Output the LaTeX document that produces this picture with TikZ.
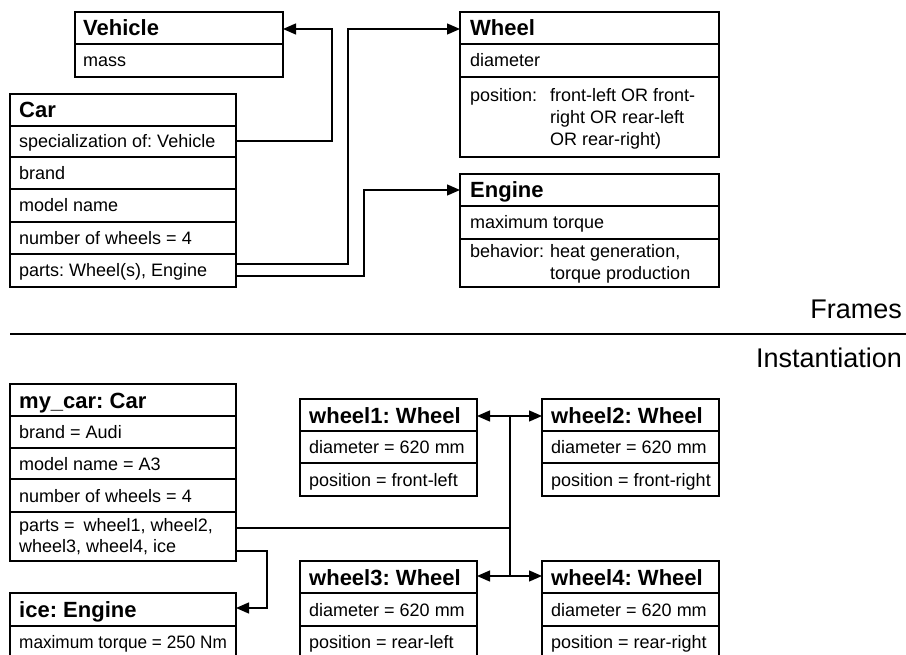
\documentclass[tikz,border=0pt]{standalone}
\usepackage{fontspec}
\setmainfont{Liberation Sans}
\usetikzlibrary{arrows.meta}
\frenchspacing

\tikzset{
  boxframe/.style={draw, line width=2.4pt, outer sep=0pt, inner sep=0pt},
  rowline/.style={line width=1.3pt},
  link/.style={line width=1.3pt},
  linkarrow/.style={link, -{Triangle[length=13pt,width=11pt]}},
  hdr/.style={anchor=base west, inner sep=0pt, font=\bfseries\fontsize{22}{26}\selectfont},
  txt/.style={anchor=base west, inner sep=0pt, font=\fontsize{18}{22}\selectfont},
  sect/.style={anchor=base east, inner sep=0pt, font=\fontsize{27}{32}\selectfont},
}

% class box: name, left, top, right, bottom (y grows downwards)
\newcommand\classbox[5]{%
  \node[boxframe, anchor=north west, minimum width=#4pt-#2pt,
        minimum height=#5pt-#3pt] (#1) at (#2,#3) {};}
% row divider: left, right, y
\newcommand\rowdiv[3]{\draw[rowline] (#1,#3) -- (#2,#3);}
\newcommand\lbl[1]{\makebox[80pt][l]{#1}}

\begin{document}
\begin{tikzpicture}[x=1pt, y=-1pt]
\clip (0,0) rectangle (906,655);

% ---------------- frames ----------------
\rowdiv{75}{283}{44}
\classbox{vehicle}{75}{12}{283}{77}
\node[hdr] (vehicleT) at (83,36) {Vehicle};
\node[txt] (vehicleA) at (83,67) {mass};

\rowdiv{10}{236}{126}\rowdiv{10}{236}{157}\rowdiv{10}{236}{189}
\rowdiv{10}{236}{222}\rowdiv{10}{236}{254}
\classbox{car}{10}{94}{236}{287}
\node[hdr] (carT) at (19,118) {Car};
\node[txt] (carA) at (19,148) {specialization of: Vehicle};
\node[txt] (carB) at (19,179.5) {brand};
\node[txt] (carC) at (19,212) {model name};
\node[txt] (carD) at (19,244.5) {number of wheels = 4};
\node[txt] (carE) at (19,277) {parts: Wheel(s), Engine};

\rowdiv{460}{719}{44}\rowdiv{460}{719}{77}
\classbox{wheel}{460}{12}{719}{157}
\node[hdr] (wheelT) at (470,36) {Wheel};
\node[txt] (wheelA) at (470,67) {diameter};
\node[txt] (wheelB1) at (470,101.5) {\lbl{position:}front-left OR front-};
\node[txt] (wheelB2) at (550,123.5) {right OR rear-left};
\node[txt] (wheelB3) at (550,145.5) {OR rear-right)};

\rowdiv{460}{719}{206}\rowdiv{460}{719}{239}
\classbox{engine}{460}{174}{719}{287}
\node[hdr] (engineT) at (470,198) {Engine};
\node[txt] (engineA) at (470,229) {maximum torque};
\node[txt] (engineB1) at (470,258) {\lbl{behavior:}heat generation,};
\node[txt] (engineB2) at (550,280) {torque production};

% frame links
\coordinate (specOut) at (236,141);
\coordinate (vehIn) at (283,29);
\draw[linkarrow] (specOut) -- (332,141) |- (vehIn);
\coordinate (partsOutA) at (236,264);
\coordinate (partsOutB) at (236,276);
\coordinate (wheelIn) at (460,29);
\coordinate (engineIn) at (460,190);
\draw[linkarrow] (partsOutA) -- (348,264) |- (wheelIn);
\draw[linkarrow] (partsOutB) -- (364,276) |- (engineIn);

% ---------------- separator ----------------
\coordinate (sepL) at (10,334);
\coordinate (sepR) at (906,334);
\draw[line width=1.7pt] (sepL) -- (sepR);
\node[sect] (framesL) at (902,319) {Frames};
\node[sect] (instL) at (902,367) {Instantiation};

% ---------------- instances ----------------
\rowdiv{10}{236}{416}\rowdiv{10}{236}{448}\rowdiv{10}{236}{479}\rowdiv{10}{236}{512}
\classbox{mycar}{10}{384}{236}{561}
\node[hdr] (mycarT) at (19,408) {my\_car: Car};
\node[txt] (mycarA) at (19,438.5) {brand = Audi};
\node[txt] (mycarB) at (19,470) {model name = A3};
\node[txt] (mycarC) at (19,502) {number of wheels = 4};
\node[txt] (mycarD1) at (19,531) {parts =\hspace{9pt}wheel1, wheel2,};
\node[txt] (mycarD2) at (19,552.5) {wheel3, wheel4, ice};

\rowdiv{10}{236}{626}
\classbox{ice}{10}{593}{236}{659}
\node[hdr] (iceT) at (19,617.5) {ice: Engine};
\node[txt] (iceA) at (19,648.5) {\scalebox{0.955}[1]{maximum torque = 250 Nm}};

\rowdiv{300}{477}{431}\rowdiv{300}{477}{463}
\classbox{wone}{300}{399}{477}{496}
\node[hdr] (woneT) at (309,423) {wheel1: Wheel};
\node[txt] (woneA) at (309,453.5) {diameter = 620 mm};
\node[txt] (woneB) at (309,486) {position = front-left};

\rowdiv{542}{719}{431}\rowdiv{542}{719}{463}
\classbox{wtwo}{542}{399}{719}{496}
\node[hdr] (wtwoT) at (551,423) {wheel2: Wheel};
\node[txt] (wtwoA) at (551,453.5) {diameter = 620 mm};
\node[txt] (wtwoB) at (551,486) {position = front-right};

\rowdiv{300}{477}{593}\rowdiv{300}{477}{626}
\classbox{wthree}{300}{561}{477}{659}
\node[hdr] (wthreeT) at (309,585) {wheel3: Wheel};
\node[txt] (wthreeA) at (309,616) {diameter = 620 mm};
\node[txt] (wthreeB) at (309,648.5) {position = rear-left};

\rowdiv{542}{719}{593}\rowdiv{542}{719}{626}
\classbox{wfour}{542}{561}{719}{659}
\node[hdr] (wfourT) at (551,585) {wheel4: Wheel};
\node[txt] (wfourA) at (551,616) {diameter = 620 mm};
\node[txt] (wfourB) at (551,648.5) {position = rear-right};

% instance links
\coordinate (carPartsOut) at (236,528);
\coordinate (hub) at (510,528);
\coordinate (hubTop) at (510,416);
\coordinate (hubBot) at (510,576);
\draw[link] (carPartsOut) -- (hub);
\draw[link] (hubTop) -- (hubBot);
\draw[linkarrow] (hubTop) -- (wone.east |- hubTop);
\draw[linkarrow] (hubTop) -- (wtwo.west |- hubTop);
\draw[linkarrow] (hubBot) -- (wthree.east |- hubBot);
\draw[linkarrow] (hubBot) -- (wfour.west |- hubBot);
\coordinate (iceOut) at (236,551);
\coordinate (iceIn) at (236,608);
\draw[linkarrow] (iceOut) -- (267,551) |- (iceIn);
\end{tikzpicture}
\end{document}
